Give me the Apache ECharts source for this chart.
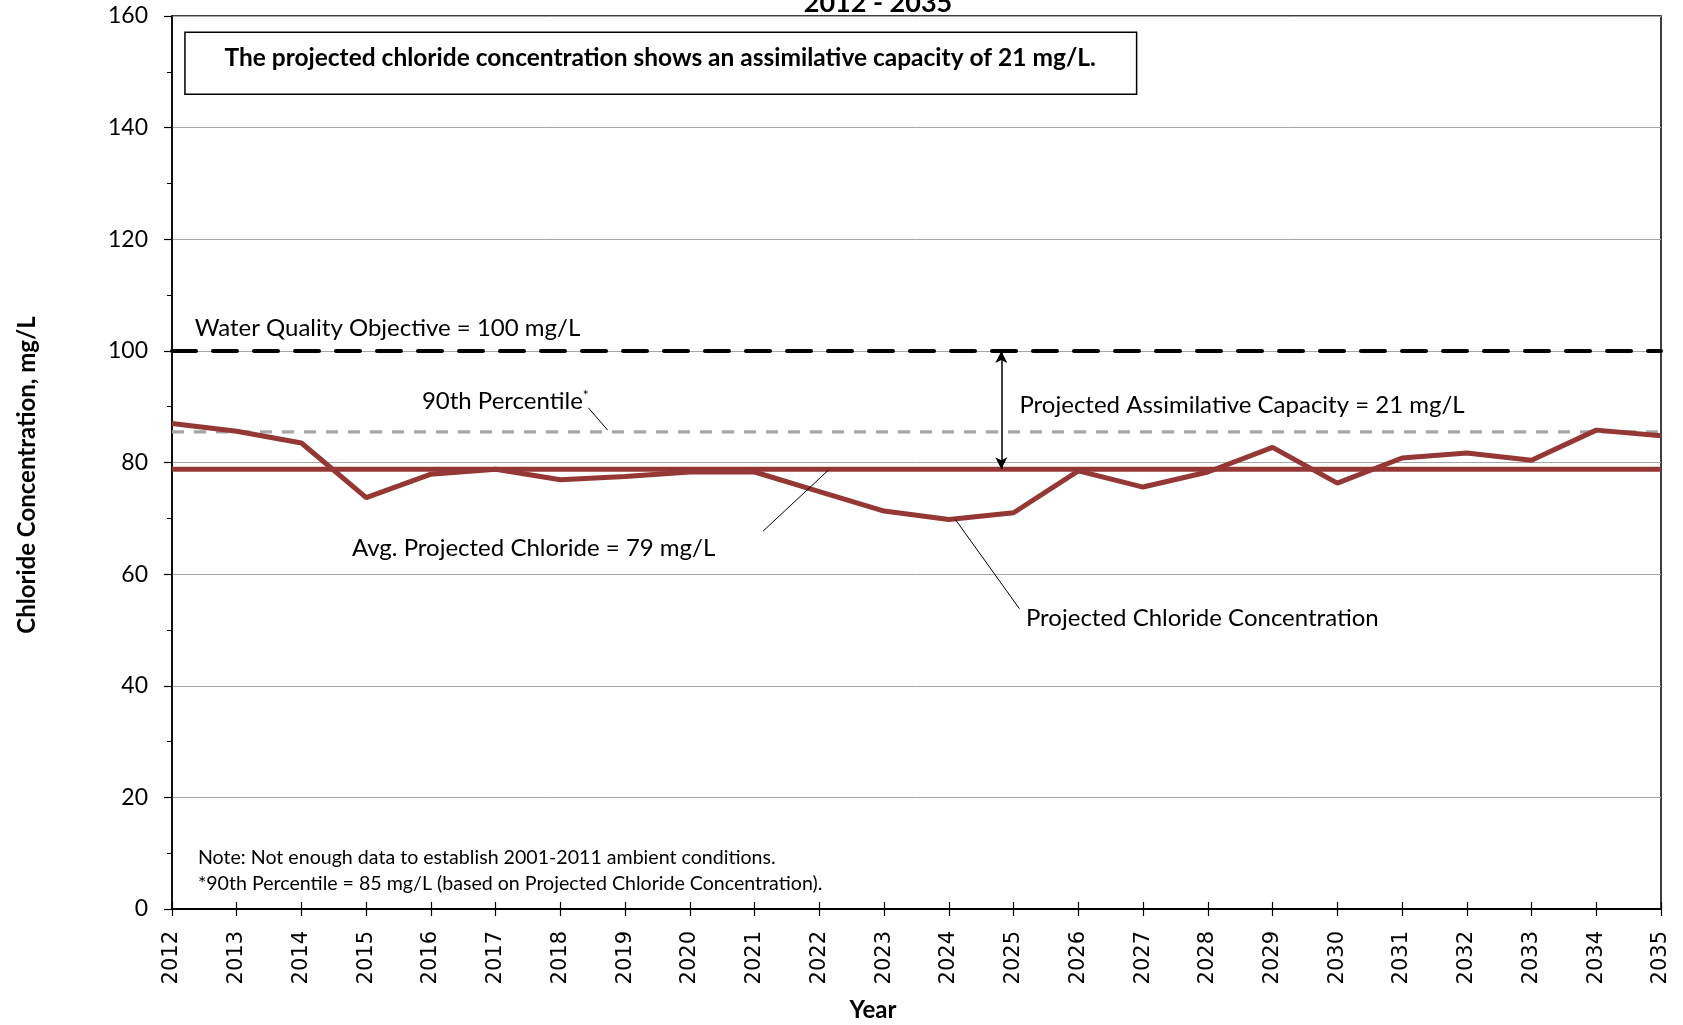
<!DOCTYPE html>
<html><head><meta charset="utf-8">
<script src="https://cdn.jsdelivr.net/npm/echarts@6/dist/echarts.min.js"></script>
<style>html,body{margin:0;padding:0;background:#fff}#c{width:1683px;height:1025px}</style>
</head><body><div id="c"></div>
<script>
const years = [2012,2013,2014,2015,2016,2017,2018,2019,2020,2021,2022,2023,2024,2025,2026,2027,2028,2029,2030,2031,2032,2033,2034,2035];
const projected = [87.0,85.6,83.5,73.7,77.9,78.8,76.9,77.5,78.3,78.3,74.8,71.3,69.8,71.0,78.5,75.6,78.3,82.7,76.3,80.8,81.7,80.4,85.8,84.8];
const avgValue = 78.8;
const p90Value = 85.5;
const wqoValue = 100;
const yTicks = [0,20,40,60,80,100,120,140,160];

const F = 'Lato, "Open Sans", sans-serif';
const RED = '#953735';
const chart = echarts.init(document.getElementById('c'));
const seriesData = years.map((y,i)=>[y, projected[i]]);

const option = {
  animation:false,
  grid:{left:172, right:22, top:16, bottom:116, show:true, borderColor:'#000', borderWidth:1.5,
        containLabel:false, outerBoundsMode:'none'},
  xAxis:[{
    type:'value', min:2012, max:2035, interval:1,
    axisLine:{lineStyle:{color:'#000', width:2}},
    axisTick:{show:true, length:7, lineStyle:{color:'#000', width:1.2}},
    axisLabel:{rotate:90, fontFamily:'DejaVu Sans', fontSize:21, color:'#000', margin:22, formatter:v=>String(v)},
    splitLine:{show:false}
  },{
    type:'value', min:2012, max:2035, interval:1, position:'bottom',
    axisLine:{show:false},
    axisTick:{show:true, inside:true, length:7, lineStyle:{color:'#000', width:1.2}},
    axisLabel:{show:false}, splitLine:{show:false}
  }],
  yAxis:{
    type:'value', min:0, max:160, interval:20,
    axisLine:{show:true, lineStyle:{color:'#000', width:1.5}},
    axisTick:{show:true, length:8, lineStyle:{color:'#000', width:1.2}},
    minorTick:{show:true, splitNumber:2, length:5, lineStyle:{color:'#000', width:1}},
    axisLabel:{fontFamily:F, fontSize:23, color:'#000', margin:24,
      formatter:v=> yTicks.includes(v) ? String(v) : ''},
    splitLine:{show:true, lineStyle:{color:'#a6a6a6', width:1}}
  },
  series:[
    {type:'line', data:[[2012,p90Value],[2035,p90Value]], symbol:'none', silent:true, z:2,
     lineStyle:{color:'#a6a6a6', width:3.3, type:[12,10]}},
    {type:'line', data:[[2012,avgValue],[2035,avgValue]], symbol:'none', silent:true, z:3,
     lineStyle:{color:RED, width:5}},
    {type:'line', data:[[2012,wqoValue],[2035,wqoValue]], symbol:'none', silent:true, z:3,
     lineStyle:{color:'#000', width:4, type:[24,17], cap:'round'}},
    {type:'line', data:seriesData, symbol:'none', z:4,
     lineStyle:{color:RED, width:5}},
    {type:'line', data:[], symbol:'none', z:5,
     markLine:{silent:true, symbol:['none','none'], label:{show:false},
       lineStyle:{color:'#000', width:1, type:'solid'},
       data:[
         [{coord:[2018.43,89.8]},{coord:[2018.73,85.8]}],
         [{coord:[2021.13,67.7]},{coord:[2022.14,78.65]}],
         [{coord:[2025.09,53.8]},{coord:[2024.10,69.8]}]
       ]}},
    {type:'line', data:[], symbol:'none', z:5,
     markLine:{silent:true, symbol:['arrow','arrow'], symbolSize:[9,12], label:{show:false},
       lineStyle:{color:'#000', width:1.5, type:'solid'},
       data:[[{coord:[2024.81,wqoValue]},{coord:[2024.81,avgValue]}]]}}
  ]
};
chart.setOption(option);

function px(x,y){ return chart.convertToPixel({gridIndex:0}, [x,y]); }
const b1 = px(2012.2,157.1), b2 = px(2026.9,146.0);
const txt = (x,y,t,opt={}) => {const p=px(x,y); return {type:'text', x:p[0], y:p[1], z:10,
  style:Object.assign({text:t, fontFamily:F, fontSize:24, fill:'#000', textVerticalAlign:'middle', textAlign:'left'}, opt)};};
const boxC = px(2019.54,152.5);
chart.setOption({graphic:[
  {type:'text', x:878, y:-10, style:{text:'2012 - 2035', fontFamily:F, fontWeight:'bold', fontSize:27, fill:'#000', textAlign:'center', textVerticalAlign:'top'}},
  {type:'text', x:27, y:475, rotation:Math.PI/2, style:{text:'Chloride Concentration, mg/L', fontFamily:F, fontWeight:'bold', fontSize:24, fill:'#000', textAlign:'center', textVerticalAlign:'middle'}},
  {type:'text', x:873, y:1010, style:{text:'Year', fontFamily:F, fontWeight:'bold', fontSize:24, fill:'#000', textAlign:'center', textVerticalAlign:'middle'}},
  {type:'rect', shape:{x:b1[0], y:b1[1], width:b2[0]-b1[0], height:b2[1]-b1[1]}, z:9,
   style:{fill:'#fff', stroke:'#000', lineWidth:1.5}},
  {type:'text', x:boxC[0], y:boxC[1], z:10, style:{text:'The projected chloride concentration shows an assimilative capacity of 21 mg/L.', fontFamily:F, fontWeight:'bold', fontSize:24.5, fill:'#000', textAlign:'center', textVerticalAlign:'middle'}},
  txt(2012.35,104.0,'Water Quality Objective = 100 mg/L'),
  txt(2015.86,91.0,'{a|90th Percentile}{s|*}',{rich:{a:{fontFamily:F, fontSize:24, fill:'#000'}, s:{fontFamily:F, fontSize:14, fill:'#000', verticalAlign:'top', padding:[0,0,12,0]}}}),
  txt(2025.09,90.2,'Projected Assimilative Capacity = 21 mg/L'),
  txt(2014.78,64.6,'Avg. Projected Chloride = 79 mg/L'),
  txt(2025.19,52.1,'Projected Chloride Concentration'),
  txt(2012.40,9.2,'Note: Not enough data to establish 2001-2011 ambient conditions.',{fontSize:19.6}),
  txt(2012.40,4.6,'*90th Percentile = 85 mg/L (based on Projected Chloride Concentration).',{fontSize:19.6})
]});
</script></body></html>
